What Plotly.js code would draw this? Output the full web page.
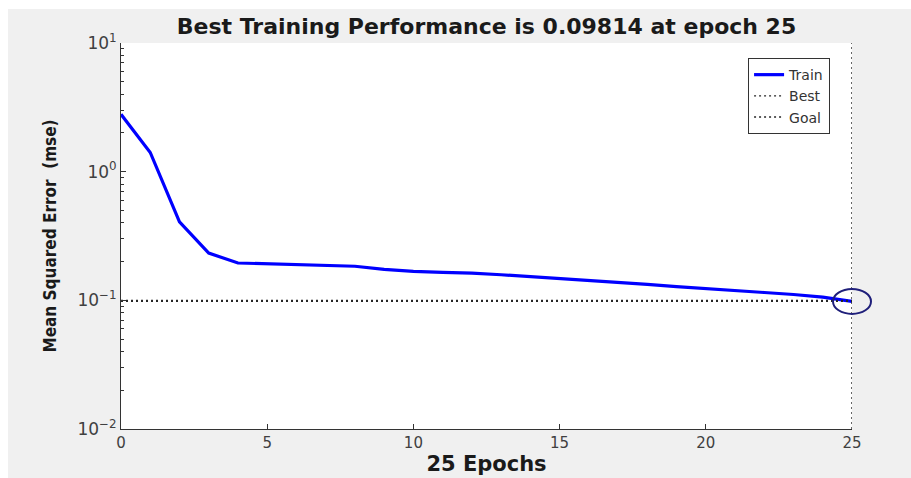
<!DOCTYPE html>
<html>
<head>
<meta charset="utf-8">
<script src="https://cdn.plot.ly/plotly-3.0.1.min.js"></script>
<style>
  html, body { margin: 0; padding: 0; background: #ffffff; }
  #chart { width: 911px; height: 478px; }
</style>
</head>
<body>
<div id="chart"></div>
<script>
// ---- data ----
const epochs = [0, 1, 2, 3, 4, 5, 6, 7, 8, 9, 10, 11, 12, 13, 14, 15, 16, 17, 18, 19, 20, 21, 22, 23, 24, 25];
const trainPerf = [2.79, 1.41, 0.408, 0.233, 0.195, 0.192, 0.189, 0.187, 0.184, 0.174, 0.168, 0.165, 0.163, 0.158, 0.153, 0.147, 0.143, 0.138, 0.133, 0.128, 0.124, 0.120, 0.115, 0.111, 0.106, 0.09814];
const bestEpoch = 25;
const bestPerf = 0.09814;
const goalPerf = 0.1;
const xLimits = [0, 25];
const yLimits = [0.01, 10];
const xTickVals = [0, 5, 10, 15, 20, 25];
const yTickVals = [0.01, 0.1, 1, 10];
const yTickText = ['10<sup>−2</sup>', '10<sup>−1</sup>', '10<sup>0</sup>', '10<sup>1</sup>'];
const yMinorTickVals = [0.02, 0.03, 0.04, 0.05, 0.06, 0.07, 0.08, 0.09,
                        0.2, 0.3, 0.4, 0.5, 0.6, 0.7, 0.8, 0.9,
                        2, 3, 4, 5, 6, 7, 8, 9];
const titleText = 'Best Training Performance is 0.09814 at epoch 25';
const xTitle = '25 Epochs';
const yTitle = 'Mean Squared Error  (mse)';

const dotColor = '#262626';
const dotDash = '2px,3px';

// best point position in paper units, through the axis scales
const logMin = Math.log10(yLimits[0]), logMax = Math.log10(yLimits[1]);
const bestPx = (bestEpoch - xLimits[0]) / (xLimits[1] - xLimits[0]);
const bestPy = (Math.log10(bestPerf) - logMin) / (logMax - logMin);

const traces = [
  {
    x: epochs, y: trainPerf, type: 'scatter', mode: 'lines', name: 'Train',
    line: { color: '#0000ff', width: 3.2 }
  },
  {
    x: [bestEpoch, bestEpoch, null, xLimits[0], xLimits[1]],
    y: [yLimits[0], yLimits[1], null, bestPerf, bestPerf],
    type: 'scatter', mode: 'lines', name: 'Best', cliponaxis: false,
    line: { color: dotColor, width: 1.4, dash: dotDash }
  },
  {
    x: xLimits, y: [goalPerf, goalPerf],
    type: 'scatter', mode: 'lines', name: 'Goal',
    line: { color: dotColor, width: 1.4, dash: dotDash }
  }
];

const layout = {
  width: 911, height: 478,
  margin: { l: 121, r: 59, t: 43, b: 49 },
  paper_bgcolor: '#ffffff',
  plot_bgcolor: '#ffffff',
  showlegend: true,
  font: { family: 'DejaVu Sans, Liberation Sans, sans-serif', color: '#404040' },
  title: {
    text: '<b>' + titleText + '</b>',
    font: { family: 'DejaVu Sans, Liberation Sans, sans-serif', size: 22, color: '#1a1a1a' },
    x: 0.5, xref: 'paper', xanchor: 'center',
    y: 1 - 26 / 478, yref: 'container', yanchor: 'middle'
  },
  xaxis: {
    type: 'linear', range: xLimits, tickvals: xTickVals,
    ticks: 'inside', ticklen: 5, tickcolor: '#333333',
    showline: true, linecolor: '#333333', linewidth: 1,
    showgrid: false, zeroline: false, mirror: false,
    tickfont: { size: 15, color: '#404040' },
    title: { text: '<b>' + xTitle + '</b>', font: { size: 21, color: '#1a1a1a' }, standoff: 5 }
  },
  yaxis: {
    type: 'log', range: [logMin, logMax],
    tickmode: 'array', tickvals: yTickVals, ticktext: yTickText,
    ticks: 'inside', ticklen: 5, tickcolor: '#333333',
    minor: { tickmode: 'array', tickvals: yMinorTickVals, ticks: 'inside', ticklen: 3, tickcolor: '#333333', showgrid: false },
    showline: true, linecolor: '#333333', linewidth: 1,
    showgrid: false, zeroline: false, mirror: false,
    tickfont: { size: 17, color: '#404040' },
    title: { text: '<b>' + yTitle + '</b>', font: { family: 'DejaVu Sans Condensed, Liberation Sans Narrow, Liberation Sans, sans-serif', size: 17, color: '#1a1a1a' }, standoff: 16 }
  },
  legend: {
    x: 0.97, xanchor: 'right', y: 0.961, yanchor: 'top',
    bgcolor: '#ffffff', bordercolor: '#333333', borderwidth: 1,
    font: { size: 14, color: '#333333' },
    tracegroupgap: 0
  },
  shapes: [
    {
      type: 'rect', xref: 'paper', yref: 'paper', layer: 'below',
      x0: (8 - 121) / 731, x1: (911 - 121) / 731,
      y0: (429 - 478) / 386, y1: (429 - 9) / 386,
      fillcolor: '#f0f0f0', line: { width: 0 }
    },
    {
      type: 'rect', xref: 'paper', yref: 'paper', layer: 'below',
      x0: 0, x1: 1, y0: 0, y1: 1,
      fillcolor: '#ffffff', line: { width: 0 }
    },
    {
      type: 'circle', xref: 'paper', yref: 'paper',
      xsizemode: 'pixel', ysizemode: 'pixel',
      xanchor: bestPx, yanchor: bestPy,
      x0: -19, x1: 19, y0: -12.5, y1: 12.5,
      line: { color: '#1f1f7a', width: 2 }
    }
  ]
};

Plotly.newPlot('chart', traces, layout, { staticPlot: true, displayModeBar: false });
</script>
</body>
</html>
